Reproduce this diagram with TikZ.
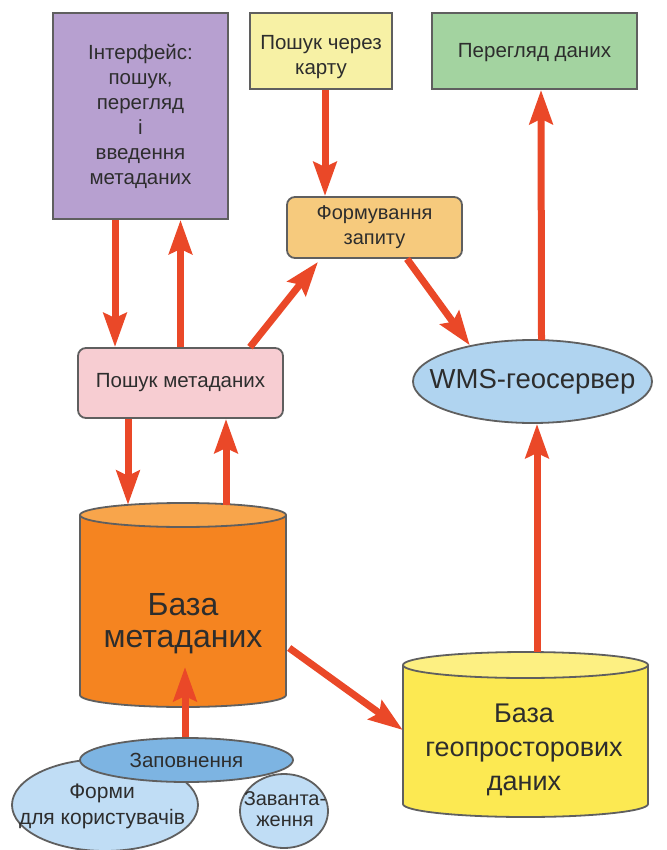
\documentclass[tikz,border=0pt]{standalone}
\usepackage{fontspec}
\setmainfont{Liberation Sans}
\usetikzlibrary{arrows.meta,shapes.geometric}
\definecolor{bordc}{RGB}{95,95,95}
\definecolor{txtc}{RGB}{45,45,45}
\definecolor{arrc}{RGB}{234,72,40}
\definecolor{purp}{RGB}{183,160,208}
\definecolor{mapy}{RGB}{247,241,165}
\definecolor{viewg}{RGB}{163,211,160}
\definecolor{formo}{RGB}{246,202,125}
\definecolor{pmpink}{RGB}{247,205,210}
\definecolor{wmsb}{RGB}{176,212,240}
\definecolor{mdbo}{RGB}{245,132,32}
\definecolor{mdbtop}{RGB}{248,165,75}
\definecolor{geoy}{RGB}{252,233,82}
\definecolor{geotop}{RGB}{253,240,130}
\definecolor{fillb}{RGB}{125,180,226}
\definecolor{lightb}{RGB}{192,221,245}
\begin{document}
\begin{tikzpicture}[x=1pt,y=-1pt,
  box/.style={draw=bordc, line width=1.8pt, text=txtc, align=center, inner sep=0pt},
  rbox/.style={box, rounded corners=8pt},
  ell/.style={box, ellipse},
  arr/.style={draw=arrc, line width=7pt, -{Stealth[length=34pt,width=23pt,inset=5pt]}},
  lbl/.style={text=txtc, align=center, inner sep=0pt}]
\useasboundingbox (0,0) rectangle (666,850);

% boxes
\node[box, fill=purp, minimum width=175pt, minimum height=206pt,
  font=\fontsize{20.5}{25}\selectfont] (iface) at (140.5,116)
  {Інтерфейс:\\пошук,\\перегляд\\і\\введення\\метаданих};
\node[box, fill=mapy, minimum width=142pt, minimum height=76pt] (map) at (321,51) {};
\node[lbl, font=\fontsize{20.5}{25}\selectfont] (mapt) at (321,57) {Пошук через\\карту};
\node[box, fill=viewg, minimum width=205pt, minimum height=76pt] (view) at (534.5,51) {};
\node[lbl, font=\fontsize{20.5}{25}\selectfont] (viewt) at (534.5,53) {Перегляд даних};
\node[rbox, fill=formo, minimum width=175pt, minimum height=61pt,
  font=\fontsize{20}{25}\selectfont] (form) at (374.5,227.5) {Формування\\запиту};
\node[rbox, fill=pmpink, minimum width=205pt, minimum height=70pt,
  font=\fontsize{20.5}{25}\selectfont] (pm) at (180.5,383) {Пошук метаданих};
\node[ell, fill=wmsb, minimum width=239pt, minimum height=83pt] (wms) at (532.5,381.5) {};
\node[lbl, font=\fontsize{27.5}{30}\selectfont] (wmst) at (wms.center) {WMS-геосервер};

% cylinder: metadata base (x 80-286, y 503-707)
\fill[mdbo] (80,515) rectangle (286,695);
\fill[mdbo] (183,695) ellipse[x radius=103, y radius=12];
\draw[bordc, line width=1.8pt] (80,515) -- (80,695);
\draw[bordc, line width=1.8pt] (286,515) -- (286,695);
\begin{scope}
  \clip (70,695) rectangle (296,715);
  \draw[bordc, line width=1.8pt] (183,695) ellipse[x radius=103, y radius=12];
\end{scope}
\draw[bordc, line width=1.8pt, fill=mdbtop] (183,515) ellipse[x radius=103, y radius=12];
\node[minimum width=206pt, minimum height=204pt, inner sep=0pt] (mdb) at (183,605) {};
\node[lbl, font=\fontsize{32}{32}\selectfont] (mdbt) at (183,624) {База\\метаданих};

% cylinder: geodata base (x 403-648, y 652-817)
\fill[geoy] (403,665) rectangle (648,804);
\fill[geoy] (525.5,804) ellipse[x radius=122.5, y radius=13];
\draw[bordc, line width=1.8pt] (403,665) -- (403,804);
\draw[bordc, line width=1.8pt] (648,665) -- (648,804);
\begin{scope}
  \clip (393,804) rectangle (658,825);
  \draw[bordc, line width=1.8pt] (525.5,804) ellipse[x radius=122.5, y radius=13];
\end{scope}
\draw[bordc, line width=1.8pt, fill=geotop] (525.5,665) ellipse[x radius=122.5, y radius=13];
\node[minimum width=245pt, minimum height=165pt, inner sep=0pt] (geo) at (525.5,734.5) {};
\node[lbl, font=\fontsize{27}{34}\selectfont] (geot) at (524,750) {База\\геопросторових\\даних};

% bottom ellipses
\node[ell, fill=lightb, minimum width=186pt, minimum height=92pt] (forms) at (105,805) {};
\node[lbl, font=\fontsize{21}{26}\selectfont] (formst) at (102,806) {Форми\\для користувачів};
\node[ell, fill=lightb, minimum width=88pt, minimum height=74pt] (load) at (284,811) {};
\node[lbl, font=\fontsize{20}{21}\selectfont] (loadt) at (285,809) {Заванта-\\ження};
\node[ell, fill=fillb, minimum width=213pt, minimum height=44pt] (fillnode) at (186.5,760) {};
\node[lbl, font=\fontsize{20.5}{22}\selectfont] (fillt) at (fillnode.center) {Заповнення};

% arrows
\draw[arr] ([xshift=-25.5pt]iface.south) -- ([xshift=-65.5pt]pm.north);
\draw[arr] (pm.north) -- ([xshift=40pt]iface.south);
\draw[arr] ([xshift=4pt]map.south) -- ([xshift=-49.5pt]form.north);
\draw[arr] ([xshift=69.5pt]pm.north) -- ([xshift=-56.5pt,yshift=-3pt]form.south);
\draw[arr] ([xshift=32.5pt]form.south) -- (wms.150);
\draw[arr] ([xshift=9pt,yshift=-1pt]wms.north) -- ([xshift=6.5pt]view.south);
\draw[arr] ([xshift=11.5pt]geo.north) -- ([xshift=4.5pt]wms.south);
\draw[arr] ([xshift=3pt,yshift=-43pt]mdb.east) -- ([yshift=4.5pt]geo.west);
\draw[arr] ([xshift=-52.5pt]pm.south) -- ([xshift=-55pt,yshift=-2pt]mdb.north);
\draw[arr] ([xshift=43pt,yshift=-2pt]mdb.north) -- ([xshift=45.5pt]pm.south);
\draw[arr] ([xshift=-1.5pt]fillnode.north) -- ([xshift=2pt,yshift=-62pt]mdb.center);
\end{tikzpicture}
\end{document}
